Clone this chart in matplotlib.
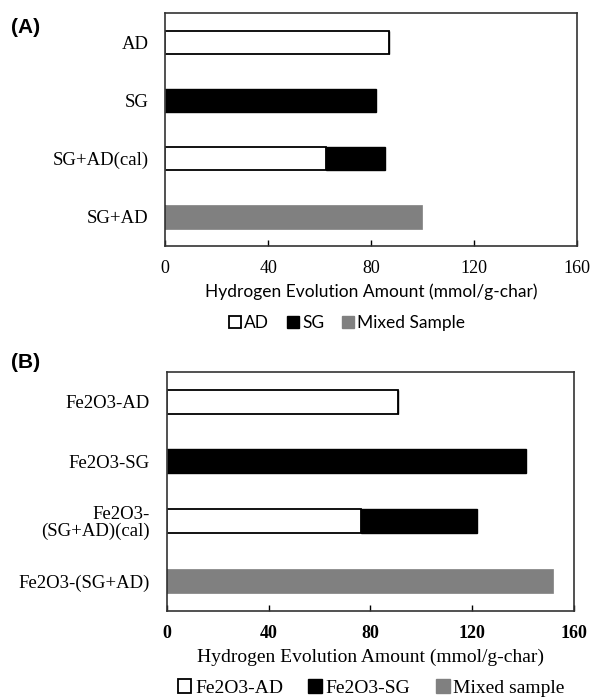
import matplotlib
matplotlib.use("Agg")
import matplotlib.pyplot as plt
from matplotlib.patches import Patch

# --- data ---
cats_a = ["AD", "SG", "SG+AD(cal)", "SG+AD"]
ad_a = [87.0, 0.0, 62.5, 0.0]
sg_a = [0.0, 82.0, 23.0, 0.0]
mixed_a = [0.0, 0.0, 0.0, 99.8]

cats_b = ["Fe2O3-AD", "Fe2O3-SG", "Fe2O3-\n(SG+AD)(cal)", "Fe2O3-(SG+AD)"]
ad_b = [91.0, 0.0, 76.5, 0.0]
sg_b = [0.0, 141.3, 45.3, 0.0]
mixed_b = [0.0, 0.0, 0.0, 151.8]

xticks = [0, 40, 80, 120, 160]
xlabel = "Hydrogen Evolution Amount (mmol/g-char)"
legend_a = ["AD", "SG", "Mixed Sample"]
legend_b = ["Fe2O3-AD", "Fe2O3-SG", "Mixed sample"]

GRAY = "#808080"
SERIF = "Liberation Serif"
SANS = "Lato"

fig = plt.figure(figsize=(5.92, 6.97), dpi=100)


def draw_panel(ax, cats, ad, sg, mixed, tick_weight):
    y = list(range(len(cats)))
    h = 0.4
    ax.barh(y, ad, height=h, color="white", edgecolor="black", linewidth=1.3)
    ax.barh(y, sg, left=ad, height=h, color="black", edgecolor="black", linewidth=1.0)
    ax.barh(y, mixed, height=h, color=GRAY, edgecolor=GRAY, linewidth=0.5)
    ax.set_ylim(len(cats) - 0.5, -0.5)
    ax.set_xlim(0, 160)
    ax.set_xticks(xticks)
    ax.set_yticks(y)
    ax.set_yticklabels(cats, family=SERIF, fontsize=13.5, linespacing=0.95)
    ax.set_xticklabels([str(t) for t in xticks], family=SERIF, fontsize=13,
                       fontweight=tick_weight)
    ax.tick_params(axis="x", direction="in", length=4, width=1, pad=10, color="black")
    ax.tick_params(axis="y", length=0, pad=12)
    for s in ax.spines.values():
        s.set_linewidth(1.2)
        s.set_color("#333333")


# Panel A
ax1 = fig.add_axes([0.2792, 0.647, 0.695, 0.334])
draw_panel(ax1, cats_a, ad_a, sg_a, mixed_a, "normal")
ax1.set_xlabel(xlabel, family=SANS, fontsize=12.5, labelpad=5)
handles_a = [Patch(facecolor="white", edgecolor="black", linewidth=1.3),
             Patch(facecolor="black", edgecolor="black"),
             Patch(facecolor=GRAY, edgecolor=GRAY)]
fig.legend(handles_a, legend_a, loc="center", bbox_to_anchor=(0.586, 0.537),
           ncol=3, frameon=False, handlelength=0.7, handleheight=0.7,
           handletextpad=0.2, columnspacing=1.0,
           prop={"family": SANS, "size": 12.5})
fig.text(0.018, 0.961, "(A)", family="Liberation Sans", fontweight="bold",
         fontsize=15, ha="left", va="center")

# Panel B
ax2 = fig.add_axes([0.2816, 0.1234, 0.688, 0.3433])
draw_panel(ax2, cats_b, ad_b, sg_b, mixed_b, "bold")
ax2.set_xlabel(xlabel, family=SERIF, fontsize=14, labelpad=5)
handles_b = [Patch(facecolor="white", edgecolor="black", linewidth=1.3),
             Patch(facecolor="black", edgecolor="black"),
             Patch(facecolor=GRAY, edgecolor=GRAY)]
fig.legend(handles_b, legend_b, loc="center", bbox_to_anchor=(0.627, 0.013),
           ncol=3, frameon=False, handlelength=0.7, handleheight=0.7,
           handletextpad=0.2, columnspacing=1.3,
           prop={"family": SERIF, "size": 14})
fig.text(0.018, 0.480, "(B)", family="Liberation Sans", fontweight="bold",
         fontsize=15, ha="left", va="center")

fig.savefig("out.png", dpi=100, facecolor="white")
